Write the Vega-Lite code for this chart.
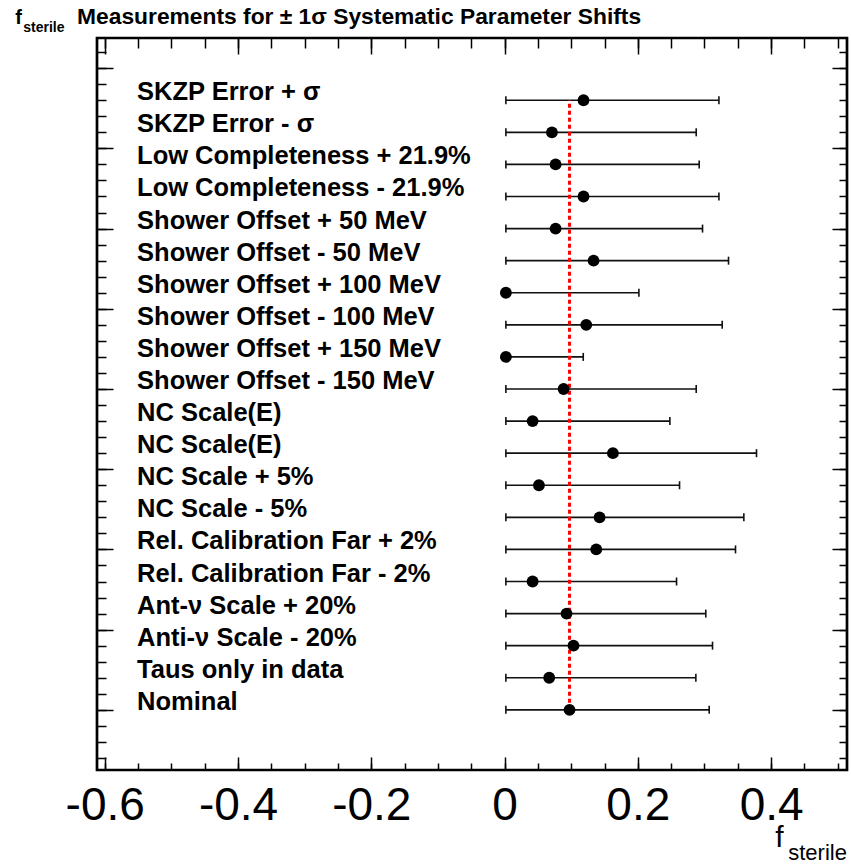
{
  "$schema": "https://vega.github.io/schema/vega-lite/v6.json",
  "width": 750,
  "height": 732,
  "autosize": {"type": "none"},
  "padding": {"left": 97, "top": 38, "right": 4, "bottom": 95},
  "background": "white",
  "config": {
    "view": {"stroke": "black", "strokeWidth": 2.7},
    "font": "Liberation Sans"
  },
  "datasets": {
    "rows": [
      {"label": "SKZP Error + σ", "row": 19, "lo": 0.002, "v": 0.1185, "hi": 0.3217},
      {"label": "SKZP Error - σ", "row": 18, "lo": 0.002, "v": 0.0711, "hi": 0.2876},
      {"label": "Low Completeness + 21.9%", "row": 17, "lo": 0.002, "v": 0.0766, "hi": 0.2921},
      {"label": "Low Completeness - 21.9%", "row": 16, "lo": 0.002, "v": 0.1185, "hi": 0.3217},
      {"label": "Shower Offset + 50 MeV", "row": 15, "lo": 0.002, "v": 0.0766, "hi": 0.2971},
      {"label": "Shower Offset - 50 MeV", "row": 14, "lo": 0.002, "v": 0.1336, "hi": 0.3361},
      {"label": "Shower Offset + 100 MeV", "row": 13, "lo": 0.002, "v": 0.002, "hi": 0.2016},
      {"label": "Shower Offset - 100 MeV", "row": 12, "lo": 0.002, "v": 0.1226, "hi": 0.3266},
      {"label": "Shower Offset + 150 MeV", "row": 11, "lo": 0.002, "v": 0.002, "hi": 0.1181},
      {"label": "Shower Offset - 150 MeV", "row": 10, "lo": 0.002, "v": 0.0886, "hi": 0.2876},
      {"label": "NC Scale(E)", "row": 9, "lo": 0.002, "v": 0.0421, "hi": 0.2481},
      {"label": "NC Scale(E)", "row": 8, "lo": 0.002, "v": 0.1626, "hi": 0.3781},
      {"label": "NC Scale + 5%", "row": 7, "lo": 0.002, "v": 0.0516, "hi": 0.2626},
      {"label": "NC Scale - 5%", "row": 6, "lo": 0.002, "v": 0.1426, "hi": 0.3591},
      {"label": "Rel. Calibration Far + 2%", "row": 5, "lo": 0.002, "v": 0.1376, "hi": 0.3466},
      {"label": "Rel. Calibration Far - 2%", "row": 4, "lo": 0.002, "v": 0.0421, "hi": 0.2581},
      {"label": "Ant-ν Scale + 20%", "row": 3, "lo": 0.002, "v": 0.093, "hi": 0.302},
      {"label": "Anti-ν Scale - 20%", "row": 2, "lo": 0.002, "v": 0.1035, "hi": 0.3121},
      {"label": "Taus only in data", "row": 1, "lo": 0.002, "v": 0.067, "hi": 0.2871},
      {"label": "Nominal", "row": 0, "lo": 0.002, "v": 0.0975, "hi": 0.3071}
    ]
  },
  "resolve": {"axis": {"x": "independent", "y": "independent"}},
  "layer": [
    {
      "data": {"name": "rows"},
      "mark": {"type": "rule", "color": "#111111", "strokeWidth": 1.6},
      "encoding": {
        "x": {"field": "lo", "type": "quantitative",
          "scale": {"domain": [-0.6116, 0.5139], "nice": false, "zero": false},
          "axis": {"orient": "bottom", "title": null, "domain": false, "grid": false, "ticks": false,
            "values": [-0.6, -0.4, -0.2, 0, 0.2, 0.4],
            "labelExpr": "datum.value == 0 ? '0' : (datum.value < 0 ? '-' : '') + format(abs(datum.value), '.1f')",
            "labelFont": "Liberation Sans", "labelFontSize": 46, "labelColor": "black",
            "labelPadding": 13, "labelFlush": false, "labelOverlap": false, "labelBound": false}},
        "x2": {"field": "hi"},
        "y": {"field": "row", "type": "quantitative",
          "scale": {"domain": [-1.875, 20.94], "nice": false, "zero": false},
          "axis": {"orient": "left", "title": null, "domain": false, "grid": false, "labels": false,
            "ticks": true, "tickSize": -16, "tickWidth": 1.5, "tickColor": "black",
            "values": [0, 2.5, 5, 7.5, 10, 12.5, 15, 17.5, 20]}}
      }
    },
    {
      "data": {"name": "rows"},
      "mark": {"type": "tick", "orient": "vertical", "color": "#111111", "size": 8, "thickness": 1.6, "opacity": 1},
      "encoding": {
        "x": {"field": "lo", "type": "quantitative",
          "scale": {"domain": [-0.6116, 0.5139], "nice": false, "zero": false},
          "axis": {"orient": "bottom", "title": null, "domain": false, "grid": false, "labels": false,
            "ticks": true, "tickSize": -13, "tickWidth": 1.5, "tickColor": "black",
            "values": [-0.6, -0.4, -0.2, 0, 0.2, 0.4]}},
        "y": {"field": "row", "type": "quantitative",
          "scale": {"domain": [-1.875, 20.94], "nice": false, "zero": false},
          "axis": {"orient": "left", "title": null, "domain": false, "grid": false, "labels": false,
            "ticks": true, "tickSize": -9, "tickWidth": 1.5, "tickColor": "black",
            "values": [-1.5, -1, -0.5, 0, 0.5, 1, 1.5, 2, 2.5, 3, 3.5, 4, 4.5, 5, 5.5, 6, 6.5, 7, 7.5, 8, 8.5, 9, 9.5, 10, 10.5, 11, 11.5, 12, 12.5, 13, 13.5, 14, 14.5, 15, 15.5, 16, 16.5, 17, 17.5, 18, 18.5, 19, 19.5, 20, 20.5]}}
      }
    },
    {
      "data": {"name": "rows"},
      "mark": {"type": "tick", "orient": "vertical", "color": "#111111", "size": 8, "thickness": 1.6, "opacity": 1},
      "encoding": {
        "x": {"field": "hi", "type": "quantitative",
          "scale": {"domain": [-0.6116, 0.5139], "nice": false, "zero": false},
          "axis": {"orient": "bottom", "title": null, "domain": false, "grid": false, "labels": false,
            "ticks": true, "tickSize": -7, "tickWidth": 1.5, "tickColor": "black",
            "values": [-0.6, -0.55, -0.5, -0.45, -0.4, -0.35, -0.3, -0.25, -0.2, -0.15, -0.1, -0.05, 0, 0.05, 0.1, 0.15, 0.2, 0.25, 0.3, 0.35, 0.4, 0.45, 0.5]}},
        "y": {"field": "row", "type": "quantitative",
          "scale": {"domain": [-1.875, 20.94], "nice": false, "zero": false},
          "axis": {"orient": "right", "title": null, "domain": false, "grid": false, "labels": false,
            "ticks": true, "tickSize": -15, "tickWidth": 1.5, "tickColor": "black",
            "values": [0, 2.5, 5, 7.5, 10, 12.5, 15, 17.5, 20]}}
      }
    },
    {
      "data": {"name": "rows"},
      "mark": {"type": "text", "align": "left", "baseline": "alphabetic", "font": "Liberation Sans", "fontWeight": "bold", "fontSize": 25.5, "color": "black"},
      "encoding": {
        "x": {"datum": -0.5515,
          "scale": {"domain": [-0.6116, 0.5139], "nice": false, "zero": false},
          "axis": {"orient": "top", "title": null, "domain": false, "grid": false, "labels": false,
            "ticks": true, "tickSize": -16, "tickWidth": 1.5, "tickColor": "black",
            "values": [-0.6, -0.4, -0.2, 0, 0.2, 0.4]}},
        "y": {"field": "row", "type": "quantitative",
          "scale": {"domain": [-1.875, 20.94], "nice": false, "zero": false},
          "axis": {"orient": "right", "title": null, "domain": false, "grid": false, "labels": false,
            "ticks": true, "tickSize": -8, "tickWidth": 1.5, "tickColor": "black",
            "values": [-1.5, -1, -0.5, 0, 0.5, 1, 1.5, 2, 2.5, 3, 3.5, 4, 4.5, 5, 5.5, 6, 6.5, 7, 7.5, 8, 8.5, 9, 9.5, 10, 10.5, 11, 11.5, 12, 12.5, 13, 13.5, 14, 14.5, 15, 15.5, 16, 16.5, 17, 17.5, 18, 18.5, 19, 19.5, 20, 20.5]}},
        "text": {"field": "label"}
      }
    },
    {
      "data": {"values": [{}]},
      "mark": {"type": "rule", "color": "#ff0000", "strokeWidth": 3, "strokeDash": [4, 3]},
      "encoding": {
        "x": {"datum": 0.0975,
          "scale": {"domain": [-0.6116, 0.5139], "nice": false, "zero": false},
          "axis": {"orient": "top", "title": null, "domain": false, "grid": false, "labels": false,
            "ticks": true, "tickSize": -10, "tickWidth": 1.5, "tickColor": "black",
            "values": [-0.6, -0.55, -0.5, -0.45, -0.4, -0.35, -0.3, -0.25, -0.2, -0.15, -0.1, -0.05, 0, 0.05, 0.1, 0.15, 0.2, 0.25, 0.3, 0.35, 0.4, 0.45, 0.5]}},
        "y": {"datum": 0, "scale": {"domain": [-1.875, 20.94], "nice": false, "zero": false}, "axis": null},
        "y2": {"datum": 19}
      }
    },
    {
      "data": {"name": "rows"},
      "mark": {"type": "point", "filled": true, "color": "black", "size": 140, "opacity": 1, "shape": "circle"},
      "encoding": {
        "x": {"field": "v", "type": "quantitative",
          "scale": {"domain": [-0.6116, 0.5139], "nice": false, "zero": false}, "axis": null},
        "y": {"field": "row", "type": "quantitative",
          "scale": {"domain": [-1.875, 20.94], "nice": false, "zero": false}, "axis": null}
      }
    },
    {
      "data": {"values": [{}]},
      "mark": {"type": "text", "text": "f", "align": "left", "baseline": "alphabetic", "font": "Liberation Sans", "fontWeight": "bold", "fontSize": 20, "color": "black"},
      "encoding": {
        "x": {"datum": -0.7343, "scale": {"domain": [-0.6116, 0.5139], "nice": false, "zero": false}, "axis": null},
        "y": {"datum": 21.386, "scale": {"domain": [-1.875, 20.94], "nice": false, "zero": false}, "axis": null}
      }
    },
    {
      "data": {"values": [{}]},
      "mark": {"type": "text", "text": "sterile", "align": "left", "baseline": "alphabetic", "font": "Liberation Sans", "fontWeight": "bold", "fontSize": 14, "color": "black"},
      "encoding": {
        "x": {"datum": -0.7223, "scale": {"domain": [-0.6116, 0.5139], "nice": false, "zero": false}, "axis": null},
        "y": {"datum": 21.137, "scale": {"domain": [-1.875, 20.94], "nice": false, "zero": false}, "axis": null}
      }
    },
    {
      "data": {"values": [{}]},
      "mark": {"type": "text", "text": "Measurements for ± 1σ Systematic Parameter Shifts", "align": "left", "baseline": "alphabetic", "font": "Liberation Sans", "fontWeight": "bold", "fontSize": 22.8, "color": "black"},
      "encoding": {
        "x": {"datum": -0.6415, "scale": {"domain": [-0.6116, 0.5139], "nice": false, "zero": false}, "axis": null},
        "y": {"datum": 21.386, "scale": {"domain": [-1.875, 20.94], "nice": false, "zero": false}, "axis": null}
      }
    },
    {
      "data": {"values": [{}]},
      "mark": {"type": "text", "text": "f", "align": "left", "baseline": "alphabetic", "font": "Liberation Sans", "fontSize": 30, "color": "black"},
      "encoding": {
        "x": {"datum": 0.4062, "scale": {"domain": [-0.6116, 0.5139], "nice": false, "zero": false}, "axis": null},
        "y": {"datum": -4.27, "scale": {"domain": [-1.875, 20.94], "nice": false, "zero": false}, "axis": null}
      }
    },
    {
      "data": {"values": [{}]},
      "mark": {"type": "text", "text": "sterile", "align": "left", "baseline": "alphabetic", "font": "Liberation Sans", "fontSize": 22, "color": "black"},
      "encoding": {
        "x": {"datum": 0.4257, "scale": {"domain": [-0.6116, 0.5139], "nice": false, "zero": false}, "axis": null},
        "y": {"datum": -4.688, "scale": {"domain": [-1.875, 20.94], "nice": false, "zero": false}, "axis": null}
      }
    }
  ]
}
